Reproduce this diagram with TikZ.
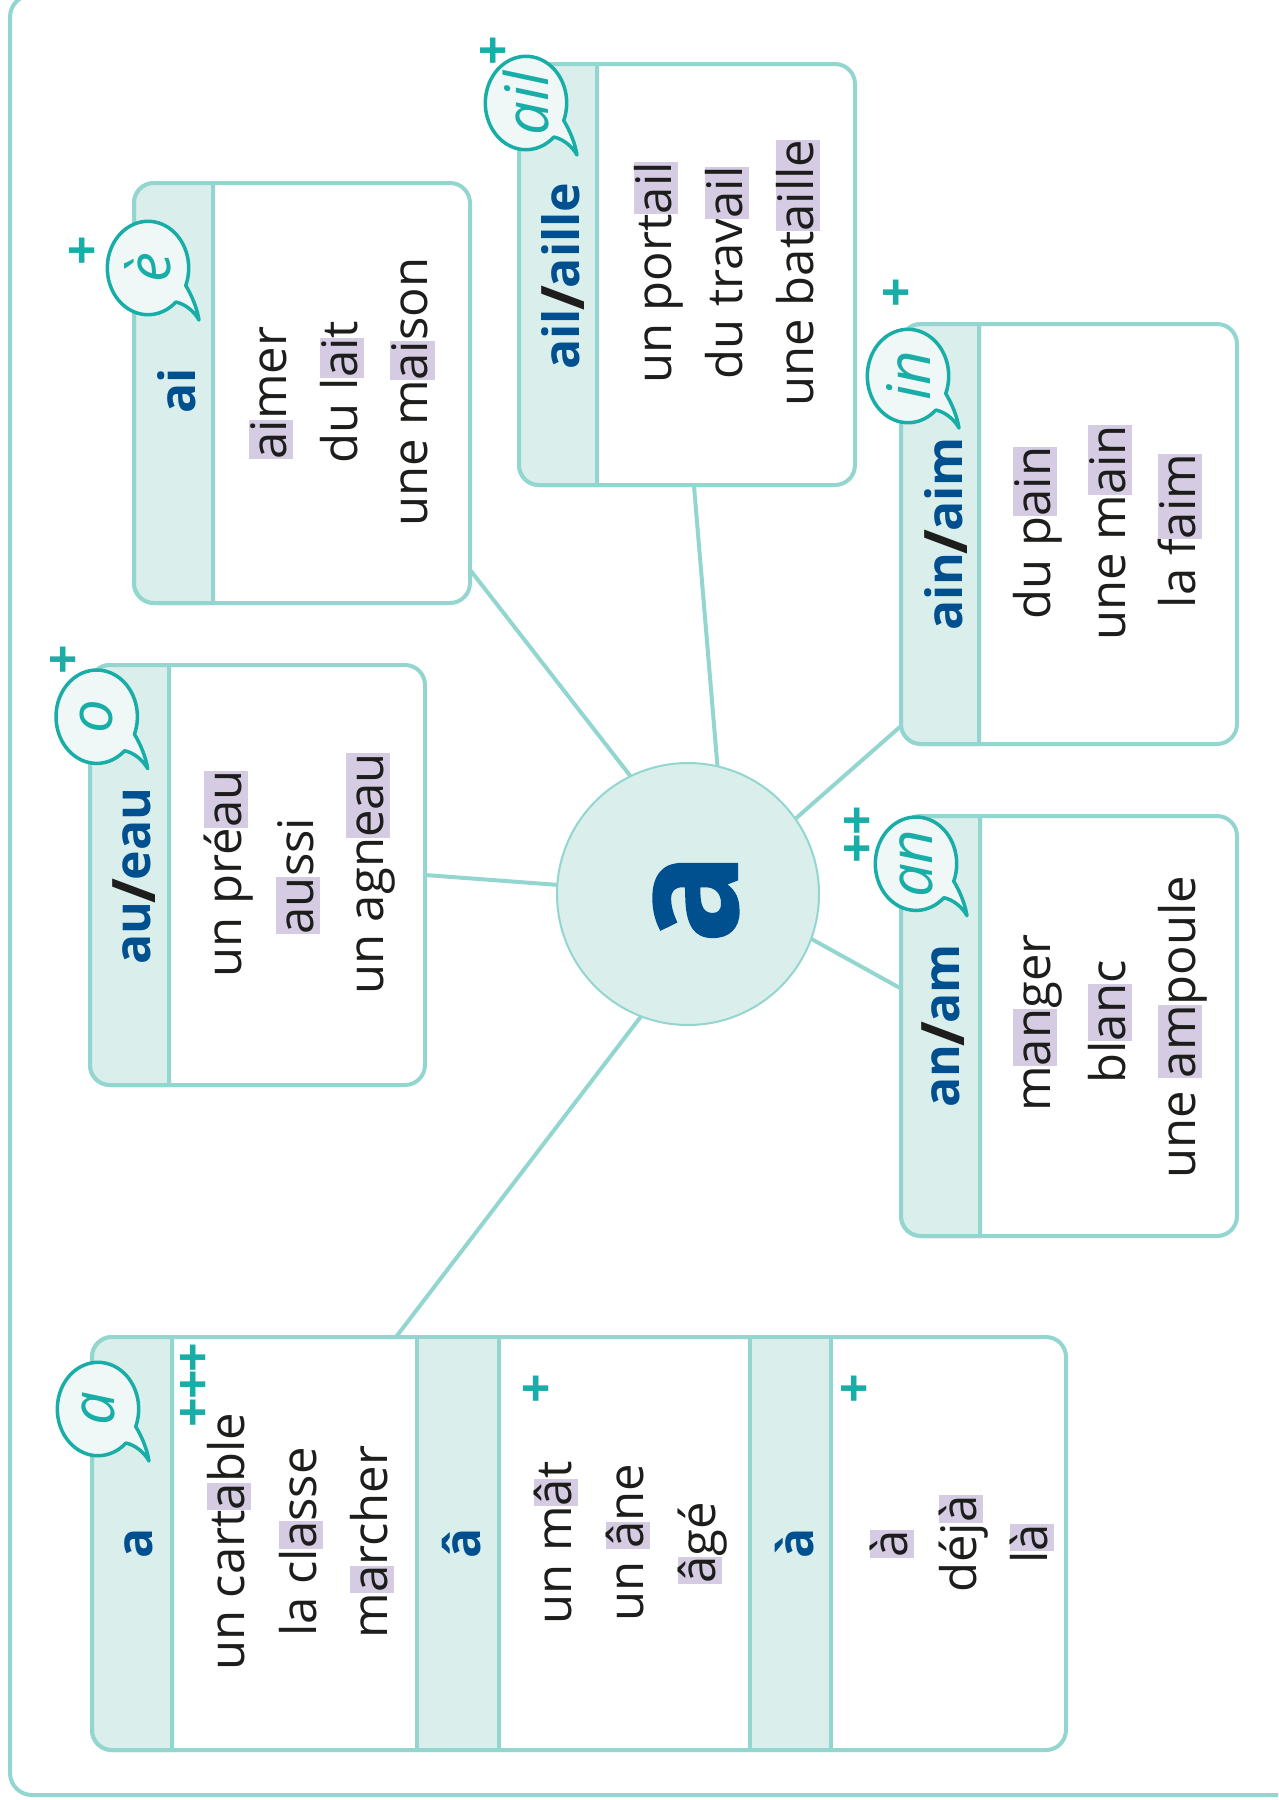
\documentclass[tikz,border=0pt]{standalone}
\usepackage{fontspec}
\setmainfont{Open Sans}
\newfontfamily\heavyfont{Open Sans}[BoldFeatures={FakeBold=1.5}]
\definecolor{linec}{HTML}{93D6CF}
\definecolor{fillc}{HTML}{DAEEEC}
\definecolor{tealc}{HTML}{19ADA7}
\definecolor{bubblef}{HTML}{F0F8F7}
\definecolor{bluec}{HTML}{00508F}
\definecolor{inkc}{HTML}{1D1D1B}
\definecolor{hlc}{HTML}{D5CCE4}
\newcommand\hl[1]{\setbox0\hbox{#1}\rlap{\textcolor{hlc}{\rule[-7pt]{\wd0}{44.5pt}}}\box0 }
\newcommand\slashmark{\kern-2pt\textcolor{inkc}{\fontsize{60}{60}\selectfont\raisebox{-5pt}{/}}\kern-2pt}
\tikzset{
 x=1pt,y=-1pt,
 cardbox/.style={draw=linec,line width=4pt,fill=white,rounded corners=20pt,inner sep=0pt,outer sep=0pt},
 headband/.style={draw=linec,line width=4pt,fill=fillc},
 link/.style={draw=linec,line width=4pt},
 hub/.style={circle,draw=linec,line width=2pt,fill=fillc,inner sep=0pt,outer sep=0pt,minimum size=262pt},
 word/.style={rotate=90,anchor=base,inner sep=0pt,text=inkc,font=\fontsize{49}{53}\selectfont},
 headword/.style={rotate=90,anchor=base,inner sep=0pt,text=bluec,font=\fontsize{50}{54}\selectfont\bfseries},
 plusmark/.style={rotate=90,inner sep=0pt,text=tealc,font=\fontsize{52}{56}\selectfont\bfseries},
 bubbletext/.style={rotate=90,inner sep=0pt,text=tealc,font=\fontsize{60}{64}\selectfont\itshape},
}
\newcommand\card[6]{%
 \node[cardbox,minimum width={(#4-#2)*1pt},minimum height={(#5-#3)*1pt}] (#1) at ({(#2+#4)/2},{(#3+#5)/2}) {};
 \path[headband] (#6,#5) -- (#6,#3) [rounded corners=20pt] -- (#2,#3) -- (#2,#5) [sharp corners] -- (#6,#5) -- cycle;
}
\newcommand\bubble[4]{%
 \begin{scope}[shift={(#1,#2)}]
 \path[draw=tealc,fill=bubblef,line width=3.5pt,line join=round]
   plot[domain=47:382,samples=70] ({40.7*cos(\x)},{46.7*sin(\x)})
   .. controls (44,28) and (49,40) .. (51,52)
   .. controls (46,43) and (37,36) .. (27.9,34) -- cycle;
 \end{scope}
 \node[bubbletext] (#4) at (#1,#2) {#3};
}
\begin{document}
\begin{tikzpicture}
\useasboundingbox (0,0) rectangle (1278,1800);
\begin{scope}
\clip (0,0) rectangle (1278,1800);
\node[draw=linec,line width=4pt,rounded corners=22pt,inner sep=0pt,outer sep=0pt,minimum width=1340pt,minimum height=1800pt] (frame) at (680,895) {};
\end{scope}
% link end points on the cards
\coordinate (eA) at (396,1337);
\coordinate (eAu) at (425,875);
\coordinate (eAi) at (471,571);
\coordinate (eAil) at (694,486);
\coordinate (eAin) at (901,726);
\coordinate (eAn) at (900,988);
\node[hub] (hub) at (688,894) {};
\draw[link] (hub.249.5) -- (eA);
\draw[link] (hub.176) -- (eAu);
\draw[link] (hub.116.2) -- (eAi);
\draw[link] (hub.77.7) -- (eAil);
\draw[link] (hub.35) -- (eAin);
\draw[link] (hub.-20.8) -- (eAn);
\node[rotate=90,anchor=base,inner sep=0pt,text=bluec,font=\fontsize{150}{160}\heavyfont\bfseries] (bigA) at (737,898) {a};
% cards
\card{cardA}{92}{1337}{1066}{1750}{172}
\path[headband] (417,1337) rectangle (499,1750);
\path[headband] (750,1337) rectangle (831,1750);
\card{cardAi}{134}{183}{470}{603}{213}
\card{cardAil}{519}{64}{855}{485}{597}
\card{cardAu}{90}{665}{425}{1085}{169}
\card{cardAin}{901}{324}{1237}{744}{979}
\card{cardAn}{901}{816}{1237}{1236}{980}
% head words
\node[headword] (hA1) at (152.5,1543) {a};
\node[headword] (hA2) at (480,1543) {â};
\node[headword] (hA3) at (813,1543) {à};
\node[headword] (hAi) at (195,391) {ai};
\node[headword] (hAil) at (579,276) {ail\slashmark aille};
\node[headword] (hAu) at (150,876) {au\slashmark eau};
\node[headword] (hAin) at (962,534) {ain\slashmark aim};
\node[headword] (hAn) at (959,1026) {an\slashmark am};
% words
\node[word] (w1) at (244,1542) {un cart\hl{a}ble};
\node[word] (w2) at (316,1542) {la cl\hl{a}sse};
\node[word] (w3) at (387,1542) {m\hl{a}rcher};
\node[word] (w4) at (571,1543) {un m\hl{â}t};
\node[word] (w5) at (643,1543) {un \hl{â}ne};
\node[word] (w6) at (715,1543) {\hl{â}gé};
\node[word] (w7) at (907,1544) {\hl{à}};
\node[word] (w8) at (976,1544) {déj\hl{à}};
\node[word] (w9) at (1047,1544) {l\hl{à}};
\node[word] (w10) at (286,393) {\hl{ai}mer};
\node[word] (w11) at (357,392) {du l\hl{ai}t};
\node[word] (w12) at (427.5,392) {une m\hl{ai}son};
\node[word] (w13) at (671,273) {un port\hl{ail}};
\node[word] (w14) at (742,273) {du trav\hl{ail}};
\node[word] (w15) at (813,273) {une bat\hl{aille}};
\node[word] (w16) at (241,874) {un pré\hl{au}};
\node[word] (w17) at (313,876) {\hl{au}ssi};
\node[word] (w18) at (383,874) {un agn\hl{eau}};
\node[word] (w19) at (1050,533) {du p\hl{ain}};
\node[word] (w20) at (1125,533) {une m\hl{ain}};
\node[word] (w21) at (1195,531) {la f\hl{aim}};
\node[word] (w22) at (1050,1023) {m\hl{an}ger};
\node[word] (w23) at (1125,1022) {bl\hl{an}c};
\node[word] (w24) at (1195,1027) {une \hl{am}poule};
% bubbles
\bubble{98}{1409}{a}{bA}
\bubble{148}{268}{è}{bAi}
\bubble{526}{103}{ail}{bAil}
\bubble{916}{863.7}{an}{bAn}
\bubble{96.7}{716.7}{o}{bAu}
\bubble{908}{376}{in}{bAin}
% plus marks
\node[plusmark] (p1) at (196,1385) {+\kern-2pt+\kern-2pt+};
\node[plusmark] (p4) at (539,1389) {+};
\node[plusmark] (p5) at (857,1389) {+};
\node[plusmark] (p6) at (85,251) {+};
\node[plusmark] (p7) at (496,51) {+};
\node[plusmark] (p8) at (860,835) {+\kern-2pt+};
\node[plusmark] (p10) at (66,660) {+};
\node[plusmark] (p11) at (899,293) {+};
\end{tikzpicture}
\end{document}
